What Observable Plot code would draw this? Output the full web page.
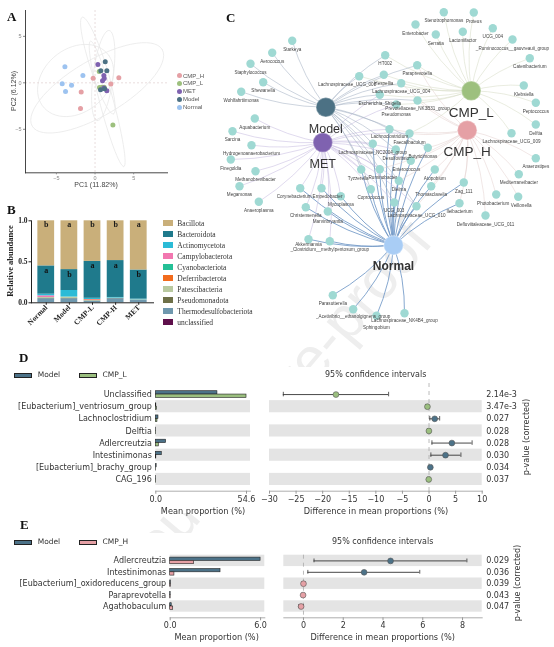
<!DOCTYPE html>
<html>
<head>
<meta charset="utf-8">
<script src="https://cdn.jsdelivr.net/npm/d3@7"></script>
<script src="https://cdn.jsdelivr.net/npm/@observablehq/plot@0.6"></script>
<style>
html,body{margin:0;padding:0;background:#fff;overflow:hidden}
#page{position:relative;width:554px;height:647px;overflow:hidden;filter:blur(0.45px)}
#page svg{position:absolute;left:0;top:0}
.t{position:absolute;white-space:nowrap;line-height:1}
.sw{position:absolute;box-sizing:border-box}
</style>
</head>
<body>
<div id="page"></div>
<script>
// ---------- Panel A: PCoA ----------
const pcaGroups = ["CMP_H","CMP_L","MET","Model","Normal"];
const pcaColors = ["#E5A0A5","#9DC07E","#7F62B0","#4C7184","#9DC3F0"];
const pcaGroup = ["Normal","Normal","Normal","Normal","Normal","CMP_H","CMP_H","CMP_H","CMP_H","CMP_H","CMP_L","CMP_L","CMP_L","CMP_L","CMP_L","MET","MET","MET","MET","MET","MET","Model","Model","Model","Model","Model"];
const pcaX = [-3.9,-1.57,-4.25,-3.04,-3.82,-1.79,-1.88,-0.24,2.05,3.08,0.54,0.58,0.93,1.19,2.31,0.37,1.14,1.19,0.97,1.53,1.14,1.32,1.53,0.75,0.71,1.23];
const pcaY = [1.72,0.79,-0.11,-0.25,-0.93,-1.0,-2.76,0.5,-0.14,0.54,1.22,-0.5,-0.47,-0.47,-4.55,1.97,0.79,0.47,0.22,-0.86,-0.57,2.26,1.29,1.29,-0.75,-0.65];
// ellipse centre and two conjugate half-axes
const ellipseCx = [0.28,-2.52,0.37,1.57,1.06];
const ellipseCy = [-0.54,0.25,1.86,-2.26,0.79];
const ellipseAx = [8.41,4.31,2.03,2.16,-0.78];
const ellipseAy = [4.12,2.69,-5.2,-6.74,-4.84];
const ellipseBx = [-1.81,-2.37,0.95,0.86,1.29];
const ellipseBy = [2.58,2.80,0.29,0.18,-0.18];

// ---------- Panel B: stacked bars ----------
const bGroups = ["Normal","Model","CMP-L","CMP-H","MET"];
const phyla = ["unclassified","Thermodesulfobacteriota","Pseudomonadota","Patescibacteria","Deferribacterota","Cyanobacteriota","Campylobacterota","Actinomycetota","Bacteroidota","Bacillota"];
const phylaColors = ["#5E0F4B","#6F98AE","#6E7048","#B9C9A0","#F26B1D","#24C096","#F277B0","#2BBBD6","#1F7A8C","#C9AF7A"];
const unclassified = [0,0,0,0,0];
const thermo = [0.05,0.05,0.02,0.05,0.03];
const pseudo = [0.003,0.003,0.003,0.003,0.002];
const patesci = [0.012,0.017,0.005,0.004,0.004];
const deferri = [0,0,0.008,0,0];
const cyano = [0,0,0,0,0];
const campylo = [0.02,0,0.004,0,0];
const actino = [0.02,0.08,0.015,0.008,0.009];
const bacteroid = [0.345,0.255,0.45,0.45,0.355];
const bacillota = [0.55,0.595,0.495,0.485,0.6];
const phylaValues = [unclassified,thermo,pseudo,patesci,deferri,cyano,campylo,actino,bacteroid,bacillota];
const lettersTop = ["b","a","b","b","a"];
const lettersMid = ["a","b","a","a","b"];
const lettersMidY = [0.4,0.35,0.45,0.46,0.35];

// ---------- Panel C: network ----------
const hubKeys = ["M","E","L","H","N"];
const hubNames = ["Model","MET","CMP_L","CMP_H","Normal"];
const hubX = [325.3,322.3,470.7,466.7,393];
const hubY = [106.7,142,90.3,129.7,244.7];
const hubFill = ["#4C7184","#7F62B0","#9DC07E","#E5A0A5","#A9CDF5"];
const hubEdge = ["#A3B0C2","#C6BCE0","#D6DCC6","#E6D3D1","#7097C6"];
const hubLabelY = [128,163,111.7,150.7,266];
const hubLabelSize = [12.5,12.5,13.5,13.5,12];
const leafNames = ["Stenotrophomonas","Proteus","Enterobacter","Serratia","Lactoniifactor","UCG_004","_Ruminococcus__gauvreauii_group","Catenibacterium","Klebsiella","Peptococcus","Delftia","Lachnospiraceae_UCG_009","Anaerostipes","Mediterraneibacter","Veillonella","Photobacterium","Defluviitaleaceae_UCG_011","Ileibacterium","Zag_111","Starkeya","Aerococcus","Staphylococcus","Shewanella","Wohlfahrtiimonas","Aquabacterium","Sarcina","Hydrogenoanaerobacterium","Finegoldia","Methanobrevibacter","Megamonas","Anaeroplasma","HT002","Paraprevotella","Lachnospiraceae_UCG_008","Hespellia","Lachnospiraceae_UCG_004","Escherichia_Shigella","Prevotellaceae_NK3B31_group","Pseudomonas","Lachnoclostridium","Faecalibaculum","Lachnospiraceae_NC2004_group","Desulfovibrio","Butyricimonas","Enterococcus","Tyzzerella","Ruminobacter","Atopobium","Dielma","Coprococcus","Thomasclavelia","UCG_003","Lachnospiraceae_UCG_010","Corynebacterium","Empedobacter","Mycoplasma","Christensenella","Marvinbryantia","Akkermansia","_Clostridium__methylpentosum_group","Parasutterella","_Acetivibrio__ethanolgignens_group","Sphingobium","Lachnospiraceae_NK4B4_group"];
const leafX = [443.3,473.3,415,435.3,462.3,492.3,512,529.3,523.3,535.3,535.3,511,535.3,518.3,517.7,495.7,485,459,463.3,291.7,271.7,250,262.7,240.7,254.3,232,251,230.3,255,239,258.3,384.7,416.7,358.7,383.3,400.7,379.3,417,395.7,389,409,372.3,395.3,427.3,410.3,360.7,379.3,434.3,398.3,370.3,430.7,393.7,416,299.7,321,340.3,305.3,327.3,308,329.3,332.3,352.7,376,404];
const leafY = [11.7,12,24,34,31.3,27.7,39,57.7,85,102.3,124,132.7,157.7,173.7,196.3,194,215,202.7,182,40.3,52.3,63.3,81.7,91.3,118,130.7,144.7,159,170.7,185.7,201.3,54.7,64.7,75.7,74.3,82.7,94.3,100,104,128.7,133,143.3,149,147.3,160.3,169,168.7,169,180.3,188.7,185.7,202,205.7,187.7,187.7,195.7,206.7,211,238.7,240.7,294.7,308.7,315.3,312.7];
const leafHubs = ["L","L","L","L","L","L","L","L","L","L","L","L","H","H","H","H","H","HN","HN","M","M","M","M","M","E","E","E","E","E","E","E","ML","MLH","ML","ML","MLH","MLE","MLH","MLE","MENH","ENHL","MEN","MEN","MNH","ENH","MEN","MENH","HN","ENH","MEN","NH","MEN","MENH","EN","EN","EN","EN","EN","EN","EN","N","N","N","N"];
// small label shifts [dx,dy] keeping crowded names legible
const labelNudge = new Map([
  ["Butyricimonas",[-5,0]],["Enterococcus",[-4.5,0]],
  ["Akkermansia",[0,-3.2]],["Lachnospiraceae_UCG_008",[-12,0]],
  ["Corynebacterium",[-6,0]],["Empedobacter",[6,0]],
  ["Christensenella",[0,-0.7]],["Marvinbryantia",[0,1.5]],
  ["UCG_003",[0,-1]],["Lachnospiraceae_UCG_010",[0,1]],
  ["Sphingobium",[0,3]],["_Acetivibrio__ethanolgignens_group",[0,-0.8]],["Lachnospiraceae_NK4B4_group",[0,-0.8]],
  ["Tyzzerella",[-3,0]],["Ruminobacter",[3,0]],
  ["Prevotellaceae_NK3B31_group",[0,-1]],["Pseudomonas",[0,1]],
  ["Lachnoclostridium",[0,-1]],["Faecalibaculum",[0,0.5]],
  ["Photobacterium",[-3,0]],["Veillonella",[3,0]]
]);

// ---------- Panel D ----------
const dRows = ["Unclassified","[Eubacterium]_ventriosum_group","Lachnoclostridium","Delftia","Adlercreutzia","Intestinimonas","[Eubacterium]_brachy_group","CAG_196"];
const dModel = [37.1,0.3,1.6,0.1,6.2,3.6,0.5,0.1];
const dCmpL = [54.6,0.6,1.0,0.2,1.8,0.3,0.1,0.2];
const dDiff = [-17.5,-0.3,1.07,-0.02,4.3,3.1,0.25,-0.05];
const dLow = [-27.4,-0.6,0.15,-0.2,0.55,0.35,0.0,-0.25];
const dHigh = [-7.6,-0.1,2.0,0.15,8.1,6.0,0.5,0.1];
const dWinner = ["CMP_L","CMP_L","Model","CMP_L","Model","Model","Model","CMP_L"];
const dP = ["2.14e-3","3.47e-3","0.027","0.028","0.028","0.030","0.034","0.037"];

// ---------- Panel E ----------
const eRows = ["Adlercreutzia","Intestinimonas","[Eubacterium]_oxidoreducens_group","Paraprevotella","Agathobaculum"];
const eModel = [6.0,3.34,0.04,0.03,0.1];
const eCmpH = [1.59,0.28,0.04,0.03,0.2];
const eDiff = [4.38,3.05,0.0,-0.02,-0.12];
const eLow = [0.53,0.22,-0.08,-0.08,-0.24];
const eHigh = [8.22,5.85,0.08,0.04,0];
const eWinner = ["Model","Model","CMP_H","CMP_H","CMP_H"];
const eP = ["0.029","0.036","0.039","0.043","0.047"];

const colModel = "#4C7288", colL = "#9BBF7F", colH = "#E5A0A5";
const W = 554, H = 647;
const page = document.getElementById("page");
const sans = "'Liberation Sans',Arial,sans-serif", serif = "'Liberation Serif',serif", dv = "'DejaVu Sans',sans-serif";

function add(node){ page.appendChild(node); }
function box(l,r,t,b){ return {width:W,height:H,marginLeft:l,marginRight:W-r,marginTop:t,marginBottom:H-b}; }
function text(str,x,y,o={}){
  const e=document.createElement("div"); e.className="t"; e.textContent=str;
  e.style.left=x+"px"; e.style.top=y+"px";
  e.style.fontFamily=o.font||sans; e.style.fontSize=(o.size||8)+"px"; e.style.color=o.color||"#333";
  if(o.bold) e.style.fontWeight="bold";
  if(o.transform) e.style.transform=o.transform;
  add(e); return e;
}
function swatch(x,y,w,h,fill,border){
  const e=document.createElement("div"); e.className="sw";
  e.style.cssText+=`left:${x}px;top:${y}px;width:${w}px;height:${h}px;background:${fill};`+(border?`border:1px solid ${border};`:"");
  add(e);
}

// watermark: only shows in the gaps between the opaque lower panels
text("Journal Pre-proof",273,404,{font:sans,size:59,color:"#eeeeee",transform:"translate(-50%,-50%) rotate(-50deg)"});
swatch(0,367,W,146,"#fff");
swatch(0,533,W,114,"#fff");

// ---------- A ----------
const thetas = d3.range(0,361,6);
const ellipsePts = ellipseCx.flatMap((cx,i)=>thetas.map(deg=>{
  const t=deg*Math.PI/180;
  return {e:i,x:cx+ellipseAx[i]*Math.cos(t)+ellipseBx[i]*Math.sin(t),y:ellipseCy[i]+ellipseAy[i]*Math.cos(t)+ellipseBy[i]*Math.sin(t)};
}));
const pcaRows = pcaX.map((x,i)=>({x,y:pcaY[i],g:pcaGroup[i]}));
add(Plot.plot({...box(25,167,10,172.3),style:{background:"transparent",fontFamily:sans},
  x:{domain:[-9.0,9.38],label:null},y:{domain:[-9.68,7.78],label:null},
  color:{domain:pcaGroups,range:pcaColors},
  marks:[
    Plot.line(ellipsePts,{x:"x",y:"y",z:"e",stroke:"#e9e9e9",strokeWidth:0.8}),
    Plot.ruleX([0],{stroke:"#e3d6d6",strokeDasharray:"2,2",strokeWidth:0.8}),
    Plot.ruleY([0],{stroke:"#e3d6d6",strokeDasharray:"2,2",strokeWidth:0.8}),
    Plot.dot(pcaRows,{x:"x",y:"y",fill:"g",r:2.5}),
    Plot.frame({anchor:"left",stroke:"#333",strokeWidth:0.9}),
    Plot.frame({anchor:"bottom",stroke:"#333",strokeWidth:0.9}),
    Plot.axisX({ticks:[-5,0,5],tickSize:2,tickPadding:1,fontSize:5.5,color:"#888",label:null}),
    Plot.axisY({ticks:[-5,0,5],tickSize:2,tickPadding:2,fontSize:5.5,color:"#888",label:null})
  ]}));
text("PC1 (11.82%)",96,181,{size:7,color:"#444",transform:"translateX(-50%)"});
text("PC2 (6.12%)",13,91,{size:7,color:"#444",transform:"translate(-50%,-50%) rotate(-90deg)"});
pcaGroups.forEach((g,i)=>{
  const y=75.5+i*7.9;
  const d=document.createElement("div"); d.className="sw";
  d.style.cssText+=`left:176.5px;top:${y-2.5}px;width:5px;height:5px;border-radius:50%;background:${pcaColors[i]};`; add(d);
  text(g,183,y-3,{size:6,color:"#555"});
});
text("A",7,10,{font:serif,size:13,bold:true,color:"#111"});

// ---------- B ----------
const bRows = phyla.flatMap((p,j)=>bGroups.map((g,i)=>({g,p,v:phylaValues[j][i]})));
add(Plot.plot({...box(31,153,220.3,302.3),style:{background:"transparent",fontFamily:serif},
  x:{type:"band",domain:bGroups,padding:0.275,round:false,label:null},
  y:{domain:[0,1],label:null},
  color:{domain:phyla,range:phylaColors},
  marks:[
    Plot.barY(bRows,{x:"g",y:"v",fill:"p",order:phyla}),
    Plot.text(bGroups,{x:d=>d,y:()=>0.95,text:(d,i)=>lettersTop[i],fontWeight:"bold",fontSize:8,fill:"#1a1a1a"}),
    Plot.text(bGroups,{x:d=>d,y:(d,i)=>lettersMidY[i],text:(d,i)=>lettersMid[i],fontWeight:"bold",fontSize:8,fill:"#111"}),
    Plot.frame({anchor:"left",stroke:"#222",strokeWidth:1}),
    Plot.frame({anchor:"bottom",stroke:"#222",strokeWidth:1}),
    Plot.axisY({ticks:[0,0.5,1],tickFormat:d=>d.toFixed(1),tickSize:2.5,tickPadding:1.5,fontSize:7.5,fontWeight:"bold",color:"#222",label:null}),
    Plot.axisX({tickSize:2.5,tickPadding:1,tickRotate:-45,fontSize:7.5,fontWeight:"bold",color:"#222",label:null})
  ]}));
text("Relative abundance",10,261,{font:serif,size:8.5,bold:true,color:"#222",transform:"translate(-50%,-50%) rotate(-90deg)"});
[...phyla].reverse().forEach((p,i)=>{
  const y=223.3+i*11;
  swatch(163,y-2.9,10,5.8,phylaColors[phyla.length-1-i]);
  text(p,177.3,y-3.8,{font:serif,size:7.5,color:"#333"});
});
text("B",7,203,{font:serif,size:13,bold:true,color:"#111"});

// ---------- C ----------
const leaves = leafNames.map((n,i)=>{
  const nudge=labelNudge.get(n)||[0,0];
  return {n,x:leafX[i],y:leafY[i],lx:leafX[i]+nudge[0],ly:leafY[i]+8.6+nudge[1]};
});
const edges = leafNames.flatMap((n,i)=>[...leafHubs[i]].map(k=>{
  const h=hubKeys.indexOf(k);
  return {x1:hubX[h],y1:hubY[h],x2:leafX[i],y2:leafY[i],c:hubEdge[h],w:k==="N"?0.85:0.55};
}));
const hubs = hubNames.map((n,i)=>({n,x:hubX[i],y:hubY[i],f:hubFill[i],ly:hubLabelY[i],s:hubLabelSize[i]}));
add(Plot.plot({width:W,height:H,margin:0,style:{background:"transparent",fontFamily:sans},
  x:{domain:[0,W],range:[0,W],axis:null},y:{domain:[0,H],range:[0,H],axis:null},
  marks:[
    Plot.arrow(edges,{x1:"x1",y1:"y1",x2:"x2",y2:"y2",bend:10,headLength:0,stroke:d=>d.c,strokeWidth:d=>d.w}),
    Plot.dot(leaves,{x:"x",y:"y",r:4.2,fill:"#9FD9D3"}),
    Plot.text(leaves,{x:"lx",y:"ly",text:"n",fontSize:4.6,fill:"#444"}),
    Plot.dot(hubs,{x:"x",y:"y",r:9.8,fill:"f",stroke:"#fff",strokeOpacity:0.3}),
    Plot.text(hubs.filter(d=>d.n!=="Normal"),{x:"x",y:"ly",text:"n",fontSize:"s",fill:"#333"}),
    Plot.text(hubs.filter(d=>d.n==="Normal"),{x:"x",y:"ly",text:"n",fontSize:"s",fill:"#333",fontWeight:"bold"})
  ]}));
text("C",226,11,{font:serif,size:13,bold:true,color:"#111"});

// ---------- D / E shared ----------
function barsPanel(rows,a,b,colB,stripeIdx,cfg){
  const table=rows.map((r,i)=>({r,a:a[i],b:b[i]}));
  add(Plot.plot({...box(cfg.l,cfg.r,cfg.t,cfg.b),style:{background:"transparent",fontFamily:dv},
    x:{domain:[0,cfg.max],label:null},
    y:{type:"band",domain:rows,range:cfg.yr,padding:0,round:false,label:null},
    marks:[
      Plot.barX(rows.filter((_,i)=>i%2===stripeIdx),{y:d=>d,x1:()=>0,x2:()=>cfg.max,fill:"#e4e4e4"}),
      Plot.barX(table,{y:"r",x:"a",fill:colModel,stroke:"#222",strokeWidth:0.6,insetTop:cfg.inO,insetBottom:cfg.inI}),
      Plot.barX(table,{y:"r",x:"b",fill:colB,stroke:"#222",strokeWidth:0.6,insetTop:cfg.inI,insetBottom:cfg.inO}),
      Plot.frame({anchor:"bottom",stroke:"#999",strokeWidth:0.8}),
      Plot.axisY({tickSize:0,tickPadding:4,fontSize:8,color:"#333",label:null}),
      Plot.axisX({ticks:cfg.ticks,tickFormat:d=>d.toFixed(1),tickSize:3,tickPadding:2,fontSize:8,color:"#333",stroke:"#999",label:null})
    ]}));
}
function forestPanel(rows,diff,lo,hi,winner,pv,colB,stripeIdx,cfg){
  const table=rows.map((r,i)=>({r,d:diff[i],lo:lo[i],hi:hi[i],f:winner[i]==="Model"?colModel:colB}));
  const pmap=new Map(rows.map((r,i)=>[r,pv[i]]));
  add(Plot.plot({...box(cfg.l,cfg.r,cfg.t,cfg.b),style:{background:"transparent",fontFamily:dv},
    x:{domain:cfg.dom,label:null},
    y:{type:"band",domain:rows,range:cfg.yr,padding:0,round:false,label:null},
    marks:[
      Plot.barX(rows.filter((_,i)=>i%2===stripeIdx),{y:d=>d,x1:()=>cfg.dom[0],x2:()=>cfg.dom[1],fill:"#e4e4e4"}),
      Plot.ruleX([0],{stroke:"#aaa",strokeDasharray:"4,4",strokeWidth:0.8}),
      Plot.ruleY(table,{y:"r",x1:"lo",x2:"hi",stroke:"#333",strokeWidth:0.9}),
      Plot.tickX(table,{y:"r",x:"lo",stroke:"#333",strokeWidth:0.8,insetTop:3.8,insetBottom:3.8}),
      Plot.tickX(table,{y:"r",x:"hi",stroke:"#333",strokeWidth:0.8,insetTop:3.8,insetBottom:3.8}),
      Plot.dot(table,{y:"r",x:"d",r:2.9,fill:"f",stroke:"#555",strokeWidth:0.6}),
      Plot.frame({anchor:"bottom",stroke:"#999",strokeWidth:0.8}),
      Plot.axisY({anchor:"right",tickFormat:d=>pmap.get(d),tickSize:0,tickPadding:4,fontSize:8,color:"#333",label:null}),
      Plot.axisX({ticks:cfg.ticks,tickFormat:d=>String(d).replace("-","\u2212"),tickSize:3,tickPadding:2,fontSize:8,color:"#333",stroke:"#999",label:null})
    ]}));
}
function legendRow(y,nameB,colB){
  swatch(14.3,y-2.5,18,5,colModel,"#222"); text("Model",37.7,y-4,{font:dv,size:7.5,color:"#333"});
  swatch(78.7,y-2.5,18,5,colB,"#222"); text(nameB,102.5,y-4,{font:dv,size:7.5,color:"#333"});
}

// ---------- D ----------
barsPanel(dRows,dModel,dCmpL,colL,1,{l:155.3,r:250,t:388,b:490.7,max:57,yr:[388,485],ticks:[0,54.6],inO:2.7,inI:6.05});
forestPanel(dRows,dDiff,dLow,dHigh,dWinner,dP,colL,1,{l:269,r:481.7,t:383,b:490.7,dom:[-30,10],yr:[388,485],ticks:d3.range(-30,11,5)});
legendRow(375,"CMP_L",colL);
text("D",19,351,{font:serif,size:13,bold:true,color:"#111"});
text("95% confidence intervals",375.7,371,{font:dv,size:8,color:"#333",transform:"translateX(-50%)"});
text("Mean proportion (%)",203,506.5,{font:dv,size:8.2,color:"#333",transform:"translateX(-50%)"});
text("Difference in mean proportions (%)",376,506.5,{font:dv,size:8.2,color:"#333",transform:"translateX(-50%)"});
text("p-value (corrected)",526.7,436.7,{font:dv,size:8,color:"#333",transform:"translate(-50%,-50%) rotate(-90deg)"});

// ---------- E ----------
barsPanel(eRows,eModel,eCmpH,colH,0,{l:169.7,r:264.3,t:554.7,b:617.3,max:6.28,yr:[554.7,611.7],ticks:[0,6],inO:2.4,inI:5.7});
forestPanel(eRows,eDiff,eLow,eHigh,eWinner,eP,colH,0,{l:283.3,r:481.7,t:554.7,b:617.3,dom:[-0.99,8.99],yr:[554.7,611.7],ticks:[0,2,4,6,8]});
legendRow(542.3,"CMP_H",colH);
text("E",20,518,{font:serif,size:13,bold:true,color:"#111"});
text("95% confidence intervals",382.7,538,{font:dv,size:8,color:"#333",transform:"translateX(-50%)"});
text("Mean proportion (%)",216.7,633,{font:dv,size:8.2,color:"#333",transform:"translateX(-50%)"});
text("Difference in mean proportions (%)",382.7,633,{font:dv,size:8.2,color:"#333",transform:"translateX(-50%)"});
text("p-value (corrected)",518.3,583,{font:dv,size:8,color:"#333",transform:"translate(-50%,-50%) rotate(-90deg)"});
</script>
</body>
</html>
